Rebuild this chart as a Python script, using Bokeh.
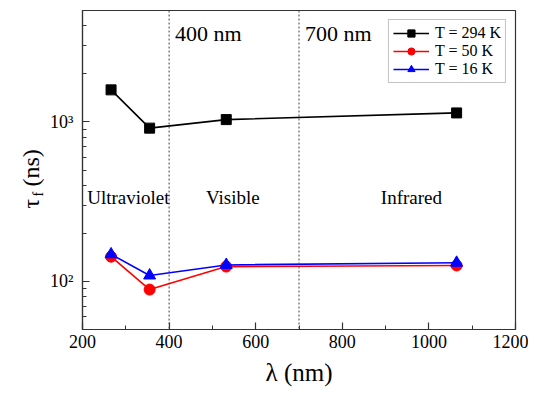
import math
from bokeh.plotting import figure
from bokeh.layouts import row
from bokeh.models import (Range1d, Span, Label, Legend, LegendItem, LogTicker, FixedTicker,
                          CustomJSTickFormatter)
from bokeh.embed import file_html
from bokeh.resources import INLINE

wavelength = [266, 355, 532, 1064]
tau_294K = [1590, 915, 1035, 1140]
tau_50K = [143, 89, 124, 126]
tau_16K = [148, 109, 127, 131]
region_bounds = [400, 700]
region_bound_labels = ["400 nm", "700 nm"]
region_names = ["Ultraviolet", "Visible", "Infrared"]

FONT = "Liberation Serif"
H = 392
LW = 46
FRAME_BOTTOM = 329

p = figure(width=528 - LW, height=H, y_axis_type="log",
           x_range=Range1d(200, 1200), y_range=Range1d(50, 5000),
           output_backend="svg", toolbar_location=None,
           min_border_left=82 - LW, min_border_right=13, min_border_top=10, min_border_bottom=63)
p.xgrid.visible = False
p.ygrid.visible = False
p.outline_line_color = "#333333"
p.outline_line_width = 1.2
p.background_fill_color = "white"
p.border_fill_color = "white"

for ax in (p.xaxis[0], p.yaxis[0]):
    ax.axis_line_color = "#333333"
    ax.axis_line_width = 1.2
    ax.major_tick_in = 7
    ax.major_tick_out = 0
    ax.minor_tick_in = 4
    ax.minor_tick_out = 0
    ax.major_tick_line_color = "#333333"
    ax.minor_tick_line_color = "#333333"
    ax.major_tick_line_width = 1.2
    ax.minor_tick_line_width = 1
    ax.major_label_text_font = FONT
    ax.major_label_text_font_size = "18px"
    ax.major_label_text_color = "black"

p.xaxis.ticker = FixedTicker(ticks=[200, 400, 600, 800, 1000, 1200],
                             minor_ticks=[300, 500, 700, 900, 1100])
p.xaxis.major_label_standoff = 5
p.xaxis.axis_label = "λ (nm)"
p.xaxis.axis_label_text_font = FONT
p.xaxis.axis_label_text_font_size = "25px"
p.xaxis.axis_label_text_font_style = "normal"
p.xaxis.axis_label_text_color = "black"
p.xaxis.axis_label_standoff = 8

p.yaxis.ticker = LogTicker(num_minor_ticks=10)
p.yaxis.formatter = CustomJSTickFormatter(code="""
const e = Math.round(Math.log10(tick));
const sup = {'0':'\u2070','1':'\u00b9','2':'\u00b2','3':'\u00b3','4':'\u2074','5':'\u2075'};
return '10' + String(e).split('').map(c => sup[c]).join('');
""")
p.yaxis.major_label_standoff = 9

for xb, lab in zip(region_bounds, region_bound_labels):
    p.add_layout(Span(location=xb, dimension="height", line_color="#444444",
                      line_dash="2 2", line_width=1))
    p.add_layout(Label(x=xb, y=3600, text=lab, x_offset=6, text_font=FONT,
                       text_font_size="22px", text_baseline="middle", text_color="black"))

region_x = [211, 485, 889]
for rx, name in zip(region_x, region_names):
    p.add_layout(Label(x=rx, y=335, text=name, text_font=FONT, text_font_size="19px",
                       text_baseline="middle", text_color="black"))

r1l = p.line(wavelength, tau_294K, line_color="black", line_width=1.6)
r1m = p.scatter(wavelength, tau_294K, marker="square", size=10, fill_color="black",
                line_color="black")
r2l = p.line(wavelength, tau_50K, line_color="#ff0000", line_width=1.6)
r2m = p.scatter(wavelength, tau_50K, marker="circle", size=11, fill_color="#ff0000",
                line_color="#ff0000")
r3l = p.line(wavelength, tau_16K, line_color="#0000ff", line_width=1.6)
r3m = p.scatter(wavelength, tau_16K, marker="triangle", size=12, fill_color="#0000ff",
                line_color="#0000ff")

legend = Legend(items=[
    LegendItem(label="T = 294 K", renderers=[r1l, r1m]),
    LegendItem(label="T = 50 K", renderers=[r2l, r2m]),
    LegendItem(label="T = 16 K", renderers=[r3l, r3m]),
], location="top_right")
legend.label_text_font = FONT
legend.label_text_font_size = "16px"
legend.label_text_color = "black"
legend.border_line_color = "#888888"
legend.border_line_width = 1
legend.margin = 9
legend.padding = 4
legend.spacing = 0
legend.glyph_width = 36
legend.glyph_height = 18
legend.label_height = 18
legend.label_standoff = 6
p.add_layout(legend)

# y-axis title panel: tau with subscript f
lab = figure(width=LW, height=H, x_range=Range1d(0, 1), y_range=Range1d(0, 1),
             output_backend="svg", toolbar_location=None,
             min_border_left=0, min_border_right=0, min_border_top=0, min_border_bottom=0)
lab.axis.visible = False
lab.grid.visible = False
lab.outline_line_color = None
lab.background_fill_color = "white"
lab.border_fill_color = "white"
lab.add_layout(Label(x=30, y=FRAME_BOTTOM - 208, x_units="screen", y_units="screen", text="τ",
                     angle=math.pi / 2, text_font=FONT, text_font_size="24px",
                     text_align="left", text_baseline="alphabetic", text_color="black"))
lab.add_layout(Label(x=38, y=FRAME_BOTTOM - 196, x_units="screen", y_units="screen", text="f",
                     angle=math.pi / 2, text_font=FONT, text_font_size="14px",
                     text_align="left", text_baseline="alphabetic", text_color="black"))
lab.add_layout(Label(x=30, y=FRAME_BOTTOM - 186, x_units="screen", y_units="screen", text="(ns)",
                     angle=math.pi / 2, text_font=FONT, text_font_size="24px",
                     text_align="left", text_baseline="alphabetic", text_color="black"))

layout = row(lab, p, spacing=0)
open("out.html", "w").write(file_html(layout, INLINE))
